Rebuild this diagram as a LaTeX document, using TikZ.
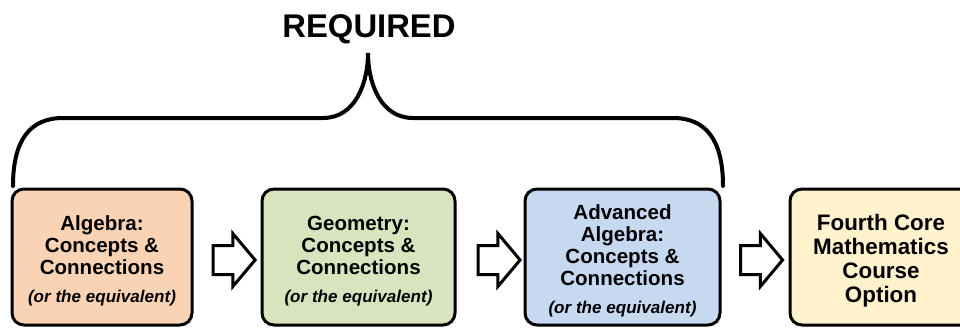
\documentclass[tikz,border=0pt]{standalone}
\usepackage{fontspec}
\setmainfont{Liberation Sans}
\usepackage{tikz}
\usetikzlibrary{shapes,arrows,positioning,calc}
\usepackage{xcolor}

\definecolor{peach}{RGB}{250,211,180}
\definecolor{sage}{RGB}{216,228,190}
\definecolor{sky}{RGB}{198,217,241}
\definecolor{cream}{RGB}{255,242,204}

\newcommand{\orequiv}{{\fontsize{12.8pt}{14pt}\selectfont\bfseries\itshape (or the equivalent)}}
\newcommand{\topgap}{\rule{0pt}{17pt}}

\begin{document}
\begin{tikzpicture}[
  x=0.75pt, y=-0.75pt,
  box/.style={draw, line width=2.25pt, rounded corners=9pt,
              minimum height=102pt, align=center, inner sep=2pt,
              font=\bfseries\fontsize{15.4pt}{16.5pt}\selectfont},
  hollow/.style={single arrow, draw, line width=2.25pt, fill=white,
                 inner xsep=0pt, inner ysep=9.75pt, minimum height=31.5pt,
                 single arrow head extend=9pt, single arrow tip angle=100},
  brace/.style={line width=3pt, line cap=round}
]
\clip (0,0) rectangle (960,328);

% ======= Title =======
\node[font=\bfseries\fontsize{24.6pt}{26pt}\selectfont] (req) at (369,29) {REQUIRED};

% ======= Brace =======
\draw[brace] (13,186) .. controls (13,140) and (30,118) .. (63,118)
  -- (323,118) .. controls (356,118) and (368,82) .. (368,53)
  .. controls (368,82) and (380,118) .. (413,118)
  -- (673,118) .. controls (706,118) and (723,140) .. (723,186);

% ======= Courses =======
\node[box, fill=peach, minimum width=135pt] (alg) at (102,257)
  {\topgap Algebra:\\Concepts \&\\Connections\\[5pt]\orequiv};
\node[box, fill=sage, minimum width=144.75pt] (geo) at (358.5,257)
  {\topgap Geometry:\\Concepts \&\\Connections\\[5pt]\orequiv};
\node[box, fill=sky, minimum width=146.25pt] (advalg) at (622.5,257)
  {\topgap Advanced\\Algebra:\\Concepts \&\\Connections\\[5pt]\orequiv};
\node[box, fill=cream, minimum width=136.5pt,
      font=\bfseries\fontsize{16.8pt}{18pt}\selectfont] (fourth) at (881,257)
  {\topgap Fourth Core\\Mathematics\\Course\\Option};

% ======= Arrows =======
\node[hollow] (arrA) at (228,260) {};
\node[hollow] (arrB) at (493,260) {};
\node[hollow] (arrC) at (755.5,260) {};

\end{tikzpicture}
\end{document}
